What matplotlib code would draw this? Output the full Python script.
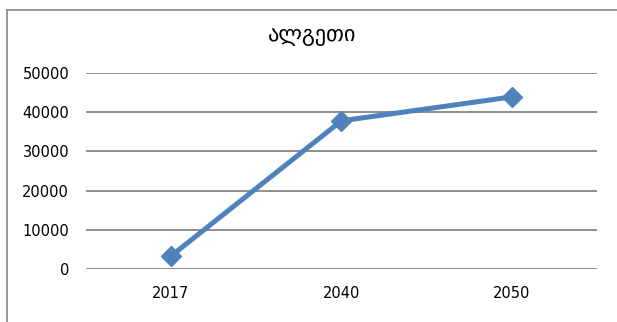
import matplotlib
matplotlib.use("Agg")
import matplotlib.pyplot as plt
from matplotlib.lines import Line2D

# data
years = ["2017", "2040", "2050"]
values = [3300, 37800, 43900]
y_ticks = [0, 10000, 20000, 30000, 40000, 50000]
title = "ალგეთი"

plt.rcParams['font.family'] = ['DejaVu Sans']

fig = plt.figure(figsize=(6.17, 3.22), dpi=100)
ax = fig.add_axes([0.139, 0.1646, 0.8286, 0.6087])

x = range(len(years))
ax.plot(x, values, color="#4F81BD", linewidth=3.6, marker="D",
        markersize=10, markerfacecolor="#4F81BD", markeredgecolor="#4F81BD",
        zorder=3, clip_on=False)

ax.set_xlim(-0.5, len(years) - 0.5)
ax.set_ylim(0, 50000)
ax.set_yticks(y_ticks)
ax.set_yticklabels([str(v) for v in y_ticks])
ax.set_xticks(list(x))
ax.set_xticklabels(years)
ax.tick_params(axis="both", length=0, labelsize=10.5, colors="black")
ax.tick_params(axis="y", pad=12)
ax.tick_params(axis="x", pad=12)

ax.grid(axis="y", color="#868686", linewidth=1.3)
for s in ax.spines.values():
    s.set_visible(False)
ax.set_axisbelow(True)

fig.text(0.506, 0.887, title, ha="center", va="center", fontsize=16)

# outer chart border (partly cut off in the original)
fig.add_artist(Line2D([7 / 617, 7 / 617], [0, 1 - 10 / 322], color="#888888", linewidth=1.2))
fig.add_artist(Line2D([7 / 617, 1], [1 - 10 / 322, 1 - 10 / 322], color="#888888", linewidth=1.2))

fig.savefig("out.png", dpi=100)
